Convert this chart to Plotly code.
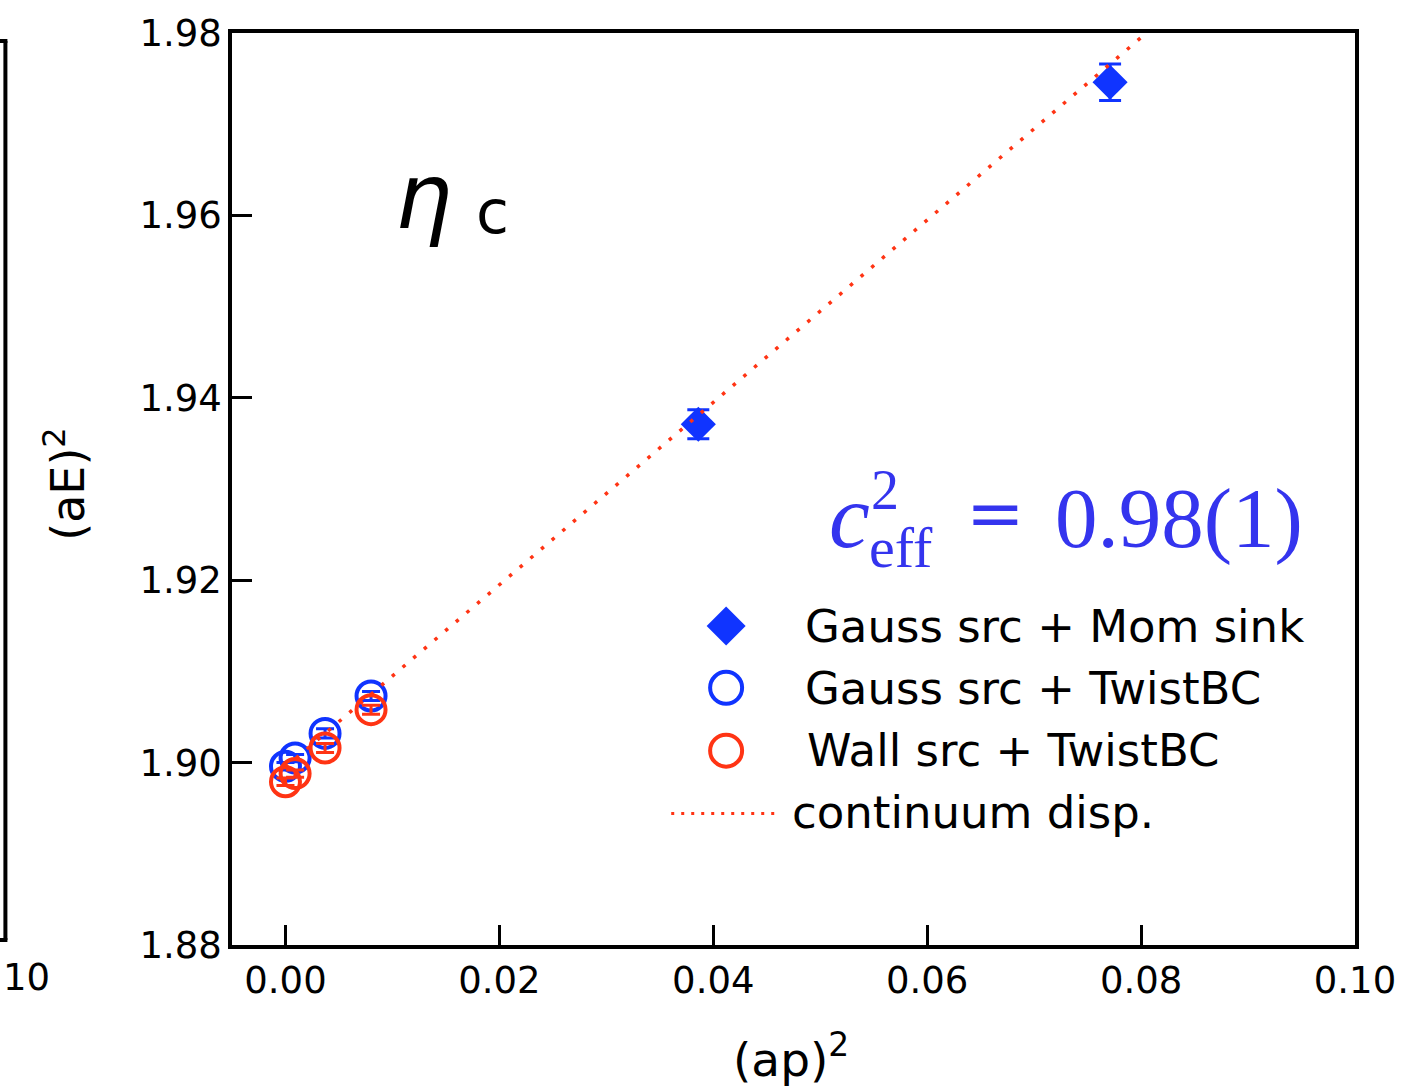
import plotly.graph_objects as go

# ---------------- data ----------------
# Gauss src + Mom sink
mom_p2 = [0.0386, 0.0771]
mom_E2 = [1.9371, 1.9746]
mom_err = [0.0016, 0.0020]

# Twisted-BC momenta
twist_p2 = [0.0000, 0.0009, 0.0037, 0.0080]
# Gauss src + TwistBC
gauss_twist_E2 = [1.8996, 1.9005, 1.9032, 1.9073]
gauss_twist_err = [0.0004, 0.0004, 0.0005, 0.0005]
# Wall src + TwistBC
wall_twist_E2 = [1.8979, 1.8988, 1.9016, 1.9058]
wall_twist_err = [0.0004, 0.0004, 0.0005, 0.0005]

# continuum dispersion (E^2 = m^2 + p^2) endpoints
cont_p2 = [0.0, 0.10]
cont_E2 = [1.8995, 1.9995]

x_ticks = [0.00, 0.02, 0.04, 0.06, 0.08, 0.10]
x_tick_labels = ["0.00", "0.02", "0.04", "0.06", "0.08", "0.10"]
y_ticks = [1.88, 1.90, 1.92, 1.94, 1.96, 1.98]
y_tick_labels = ["1.88", "1.90", "1.92", "1.94", "1.96", "1.98"]

legend_labels = ["Gauss src + Mom sink", "Gauss src + TwistBC",
                 "Wall src + TwistBC", "continuum disp."]

# ---------------- style ----------------
BLUE = "#1034FF"
RED = "#FF3414"
TXTBLUE = "#3434EE"
W, H = 1408, 1090
L, R, T, B = 232, 51, 30, 145
SANS = "DejaVu Sans"
SERIF = "Liberation Serif"


def px(x):
    return (x - L) / (W - L - R)


def py(y):
    return (H - B - y) / (H - T - B)


fig = go.Figure()

fig.add_trace(go.Scatter(
    x=mom_p2, y=mom_E2, mode="markers",
    error_y=dict(type="data", array=mom_err, color=BLUE, thickness=3, width=11),
    marker=dict(symbol="diamond", size=27, color=BLUE, line=dict(width=0)),
))
fig.add_trace(go.Scatter(
    x=twist_p2, y=gauss_twist_E2, mode="markers",
    error_y=dict(type="data", array=gauss_twist_err, color=BLUE, thickness=3, width=9),
    marker=dict(symbol="circle-open", size=29, color=BLUE, line=dict(width=4, color=BLUE)),
))
fig.add_trace(go.Scatter(
    x=twist_p2, y=wall_twist_E2, mode="markers",
    error_y=dict(type="data", array=wall_twist_err, color=RED, thickness=3, width=9),
    marker=dict(symbol="circle-open", size=29, color=RED, line=dict(width=4, color=RED)),
))
fig.add_trace(go.Scatter(
    x=cont_p2, y=cont_E2, mode="lines",
    line=dict(color=RED, width=3.5, dash="3.5px,10.5px"),
))

# legend keys (drawn on an overlay axis in paper fractions)
key_x = px(727)
key_rows = [py(625), py(687), py(750), py(813)]
fig.add_trace(go.Scatter(
    x=[key_x], y=[key_rows[0]], xaxis="x2", yaxis="y2", mode="markers",
    marker=dict(symbol="diamond", size=30, color=BLUE, line=dict(width=0)), cliponaxis=False,
))
fig.add_trace(go.Scatter(
    x=[key_x], y=[key_rows[1]], xaxis="x2", yaxis="y2", mode="markers",
    marker=dict(symbol="circle-open", size=32, color=BLUE, line=dict(width=4, color=BLUE)), cliponaxis=False,
))
fig.add_trace(go.Scatter(
    x=[key_x], y=[key_rows[2]], xaxis="x2", yaxis="y2", mode="markers",
    marker=dict(symbol="circle-open", size=32, color=RED, line=dict(width=4, color=RED)), cliponaxis=False,
))
fig.add_trace(go.Scatter(
    x=[px(672), px(776)], y=[key_rows[3], key_rows[3]], xaxis="x2", yaxis="y2", mode="lines",
    line=dict(color=RED, width=3, dash="3px,7px"), cliponaxis=False,
))

annotations = []
legend_text_x = [804, 804, 806, 791]
for lab, lx, ly in zip(legend_labels, legend_text_x, [625, 688, 750, 812]):
    annotations.append(dict(x=px(lx), y=py(ly), xref="paper", yref="paper", text=lab,
                            showarrow=False, xanchor="left", yanchor="middle",
                            font=dict(family=SANS, size=45, color="black")))

# eta_c label
annotations.append(dict(x=px(424), y=py(194), xref="paper", yref="paper", text="<i>η</i>",
                        showarrow=False, xanchor="center", yanchor="middle",
                        font=dict(family=SANS, size=90, color="black")))
annotations.append(dict(x=px(493), y=py(210), xref="paper", yref="paper", text="c",
                        showarrow=False, xanchor="center", yanchor="middle",
                        font=dict(family=SANS, size=60, color="black")))

# c_eff^2 = 0.98(1)
annotations.append(dict(x=px(828), y=py(515), xref="paper", yref="paper", text="<i>c</i>",
                        showarrow=False, xanchor="left", yanchor="middle",
                        font=dict(family=SERIF, size=92, color=TXTBLUE)))
annotations.append(dict(x=px(870), y=py(489), xref="paper", yref="paper", text="2",
                        showarrow=False, xanchor="left", yanchor="middle",
                        font=dict(family=SERIF, size=56, color=TXTBLUE)))
annotations.append(dict(x=px(868), y=py(546), xref="paper", yref="paper", text="eff",
                        showarrow=False, xanchor="left", yanchor="middle",
                        font=dict(family=SERIF, size=58, color=TXTBLUE)))
annotations.append(dict(x=px(997), y=py(512), xref="paper", yref="paper", text="=",
                        showarrow=False, xanchor="center", yanchor="middle",
                        font=dict(family="DejaVu Serif", size=70, color=TXTBLUE)))
annotations.append(dict(x=px(1054), y=py(517), xref="paper", yref="paper", text="0.98(1)",
                        showarrow=False, xanchor="left", yanchor="middle",
                        font=dict(family=SERIF, size=85, color=TXTBLUE)))

# axis titles
annotations.append(dict(x=px(732), y=py(1056), xref="paper", yref="paper",
                        text="(ap)<sup>2</sup>", showarrow=False, xanchor="left", yanchor="middle",
                        font=dict(family=SANS, size=47, color="black")))
annotations.append(dict(x=px(64), y=py(482), xref="paper", yref="paper",
                        text="(aE)<sup>2</sup>", showarrow=False, textangle=-90,
                        xanchor="center", yanchor="middle",
                        font=dict(family=SANS, size=46, color="black")))

# neighbouring panel edge (cut off at left)
annotations.append(dict(x=px(1), y=py(978), xref="paper", yref="paper", text="10",
                        showarrow=False, xanchor="left", yanchor="middle",
                        font=dict(family=SANS, size=37, color="black")))

shapes = [
    dict(type="line", xref="paper", yref="paper", x0=px(5), x1=px(5), y0=py(38), y1=py(940),
         line=dict(color="black", width=4)),
    dict(type="line", xref="paper", yref="paper", x0=px(-2), x1=px(7), y0=py(38), y1=py(38),
         line=dict(color="black", width=4)),
    dict(type="line", xref="paper", yref="paper", x0=px(-2), x1=px(7), y0=py(940), y1=py(940),
         line=dict(color="black", width=4)),
]

axis_common = dict(showline=True, linewidth=3.5, linecolor="black", mirror=True,
                   ticks="inside", ticklen=20, tickwidth=3, tickcolor="black",
                   showgrid=False, zeroline=False,
                   tickfont=dict(family=SANS, size=37, color="black"))

fig.update_layout(
    width=W, height=H,
    margin=dict(l=L, r=R, t=T, b=B, pad=0),
    paper_bgcolor="white", plot_bgcolor="white",
    showlegend=False,
    xaxis=dict(range=[-0.005, 0.10], tickmode="array", tickvals=x_ticks, ticktext=x_tick_labels,
               ticklabelstandoff=0, **axis_common),
    yaxis=dict(range=[1.88, 1.98], tickmode="array", tickvals=y_ticks, ticktext=y_tick_labels,
               ticklabelstandoff=-1, **axis_common),
    xaxis2=dict(overlaying="x", range=[0, 1], visible=False),
    yaxis2=dict(overlaying="y", range=[0, 1], visible=False),
    annotations=annotations,
    shapes=shapes,
)

fig.write_html("out.html")
